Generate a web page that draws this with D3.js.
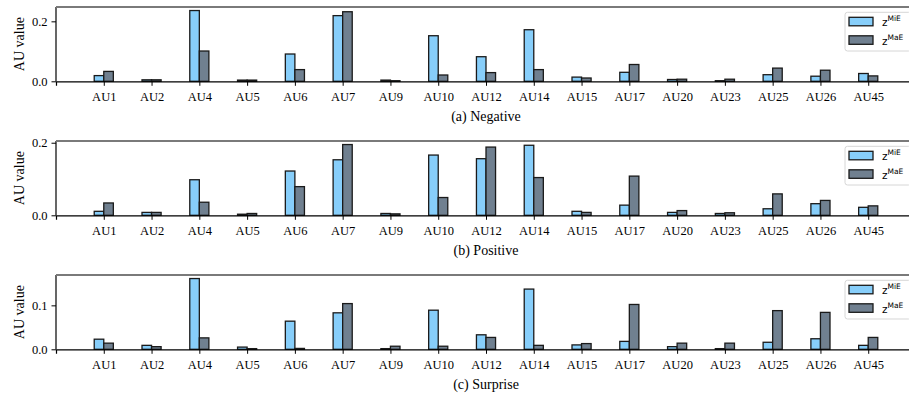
<!DOCTYPE html>
<html>
<head>
<meta charset="utf-8">
<script src="https://cdn.jsdelivr.net/npm/d3@7"></script>
<style>
  body { margin: 0; background: #fff; }
  svg { display: block; }
  .tick text { font-family: "Liberation Serif", "Times New Roman", serif; font-size: 12.5px; fill: #000; }
</style>
</head>
<body>
<svg id="chart" width="909" height="394"></svg>
<script>
// action units (x categories)
const categories = ['AU1', 'AU2', 'AU4', 'AU5', 'AU6', 'AU7', 'AU9', 'AU10', 'AU12',
    'AU14', 'AU15', 'AU17', 'AU20', 'AU23', 'AU25', 'AU26', 'AU45'];

// (a) Negative
const negativeMiE = [0.019, 0.005, 0.236, 0.004, 0.091, 0.219, 0.004, 0.152, 0.082,
    0.172, 0.014, 0.030, 0.006, 0.002, 0.022, 0.017, 0.026];
const negativeMaE = [0.033, 0.005, 0.101, 0.004, 0.039, 0.232, 0.002, 0.021, 0.029,
    0.039, 0.011, 0.056, 0.007, 0.007, 0.044, 0.037, 0.018];

// (b) Positive
const positiveMiE = [0.011, 0.008, 0.098, 0.003, 0.122, 0.153, 0.005, 0.166, 0.156,
    0.193, 0.011, 0.028, 0.008, 0.005, 0.018, 0.032, 0.022];
const positiveMaE = [0.034, 0.008, 0.036, 0.005, 0.079, 0.195, 0.004, 0.049, 0.188,
    0.104, 0.008, 0.108, 0.013, 0.007, 0.059, 0.041, 0.026];

// (c) Surprise
const surpriseMiE = [0.023, 0.009, 0.161, 0.005, 0.064, 0.083, 0.0015, 0.089, 0.033,
    0.137, 0.010, 0.018, 0.006, 0.0015, 0.016, 0.024, 0.009];
const surpriseMaE = [0.014, 0.006, 0.026, 0.0015, 0.002, 0.104, 0.007, 0.007, 0.027,
    0.009, 0.013, 0.102, 0.014, 0.014, 0.088, 0.084, 0.027];

const captions = ['(a) Negative', '(b) Positive', '(c) Surprise'];
const yTicks = [[0, 0.2], [0, 0.2], [0, 0.1]];
const seriesNames = ['MiE', 'MaE'];
const colors = ['#87cefa', '#708090'];

const panels = [
    { mie: negativeMiE, mae: negativeMaE, top: 7 },
    { mie: positiveMiE, mae: positiveMaE, top: 141 },
    { mie: surpriseMiE, mae: surpriseMaE, top: 275 }
];

const svg = d3.select('#chart');
const left = 56, right = 916, plotH = 74.3;
const serif = '"Liberation Serif", "Times New Roman", serif';

// x: category index, one empty slot on each side
const x = d3.scaleLinear()
    .domain([-1, categories.length])
    .range([left, right]);
const barW = (x(1) - x(0)) * 0.2;

panels.forEach((p, k) => {
    const g = svg.append('g').attr('transform', `translate(0, ${p.top})`);
    const ymax = d3.max(p.mie.concat(p.mae)) * 1.05;
    const y = d3.scaleLinear().domain([0, ymax]).range([plotH, 0]);

    // bars
    [p.mie, p.mae].forEach((vals, s) => {
        g.append('g')
            .selectAll('rect')
            .data(vals)
            .join('rect')
            .attr('x', (d, i) => x(i) + (s === 0 ? -barW : 0))
            .attr('y', d => y(d))
            .attr('width', barW)
            .attr('height', d => y(0) - y(d))
            .attr('fill', colors[s])
            .attr('stroke', '#1a1a1a')
            .attr('stroke-width', 1.3);
    });

    // axes
    const xAxis = d3.axisBottom(x)
        .tickValues(d3.range(categories.length))
        .tickFormat(i => categories[i])
        .tickSize(4.5)
        .tickPadding(6);
    const gx = g.append('g')
        .attr('transform', `translate(0, ${plotH})`)
        .call(xAxis);
    gx.select('.domain').attr('stroke', '#000').attr('stroke-width', 1.2);

    const yAxis = d3.axisLeft(y)
        .tickValues(yTicks[k])
        .tickFormat(d3.format('.1f'))
        .tickSize(4.5)
        .tickPadding(4);
    const gy = g.append('g')
        .attr('transform', `translate(${left}, 0)`)
        .call(yAxis);
    gy.select('.domain').remove();
    g.append('line')
        .attr('x1', left).attr('x2', left)
        .attr('y1', 0).attr('y2', plotH)
        .attr('stroke', '#000').attr('stroke-width', 1.2);

    // top spine
    g.append('line')
        .attr('x1', left).attr('x2', right)
        .attr('y1', 0).attr('y2', 0)
        .attr('stroke', '#7a7a7a').attr('stroke-width', 2);

    // y label
    g.append('text')
        .attr('transform', `translate(24, ${plotH / 2}) rotate(-90)`)
        .attr('text-anchor', 'middle')
        .attr('font-family', serif)
        .attr('font-size', 14)
        .text('AU value');

    // caption
    g.append('text')
        .attr('x', x((categories.length - 1) / 2))
        .attr('y', plotH + 40)
        .attr('text-anchor', 'middle')
        .attr('font-family', serif)
        .attr('font-size', 14)
        .text(captions[k]);

    // legend
    const lg = g.append('g').attr('transform', 'translate(845, 5.3)');
    lg.append('rect')
        .attr('width', 66).attr('height', 38.7)
        .attr('rx', 2.5)
        .attr('fill', '#fff').attr('fill-opacity', 0.8)
        .attr('stroke', '#d6d6d6').attr('stroke-width', 1);
    seriesNames.forEach((name, s) => {
        const row = lg.append('g').attr('transform', `translate(4, ${5 + s * 18.5})`);
        row.append('rect')
            .attr('width', 24).attr('height', 8.5)
            .attr('fill', colors[s])
            .attr('stroke', '#1a1a1a').attr('stroke-width', 1.3);
        const t = row.append('text')
            .attr('x', 33).attr('y', 9)
            .attr('font-family', '"DejaVu Sans", sans-serif')
            .attr('font-size', 10.5);
        t.append('tspan').text('z');
        t.append('tspan')
            .attr('dy', -5)
            .attr('font-size', 7.5)
            .text(name);
    });
});
</script>
</body>
</html>
